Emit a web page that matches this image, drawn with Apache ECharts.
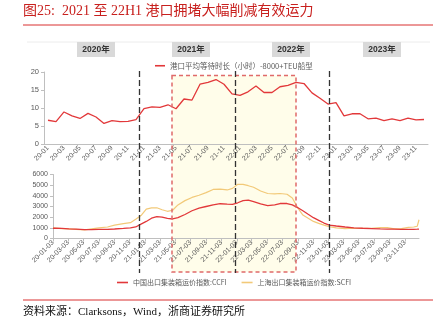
<!DOCTYPE html>
<html>
<head>
<meta charset="utf-8">
<script src="https://cdn.jsdelivr.net/npm/echarts@6/dist/echarts.min.js"></script>
<style>
  html, body { margin: 0; padding: 0; background: #fff; }
  #chart { width: 445px; height: 333px; }
</style>
</head>
<body>
<div id="chart"></div>
<script>
// Monthly average port waiting time (hours), 8000+ TEU vessels
const months = [
  '20-01','20-02','20-03','20-04','20-05','20-06','20-07','20-08','20-09','20-10','20-11','20-12',
  '21-01','21-02','21-03','21-04','21-05','21-06','21-07','21-08','21-09','21-10','21-11','21-12',
  '22-01','22-02','22-03','22-04','22-05','22-06','22-07','22-08','22-09','22-10','22-11','22-12',
  '23-01','23-02','23-03','23-04','23-05','23-06','23-07','23-08','23-09','23-10','23-11','23-12'
];
const waitHours = [
  6.6, 6.2, 8.9, 7.8, 7.1, 8.5, 7.5, 5.7, 6.5, 6.2, 6.3, 6.8,
  9.8, 10.3, 10.2, 10.9, 9.8, 12.5, 12.2, 16.6, 17.1, 17.9, 16.6, 13.9,
  13.5, 14.5, 16.1, 14.3, 14.3, 15.9, 16.3, 17.1, 16.8, 14.2, 12.7, 11.1,
  11.5, 7.8, 8.4, 8.4, 7.0, 7.2, 6.5, 7.0, 6.5, 7.2, 6.7, 6.8
];

// Freight index observations (weekly release dates)
const indexDates = [
  '2020-01-03','2020-02-07','2020-03-06','2020-04-03','2020-05-08','2020-06-05','2020-07-03','2020-08-07',
  '2020-09-04','2020-10-09','2020-11-06','2020-11-27','2020-12-18','2021-01-08','2021-01-29','2021-02-19',
  '2021-03-12','2021-04-02','2021-04-23','2021-05-14','2021-06-11','2021-07-09','2021-08-06','2021-09-03',
  '2021-10-01','2021-10-29','2021-11-26','2021-12-17','2022-01-07','2022-01-28','2022-02-18','2022-03-11',
  '2022-04-08','2022-05-06','2022-06-03','2022-06-24','2022-07-22','2022-08-12','2022-09-02','2022-09-23',
  '2022-10-14','2022-11-04','2022-11-25','2022-12-16','2023-01-06','2023-02-03','2023-03-10','2023-04-14',
  '2023-05-19','2023-06-23','2023-07-28','2023-08-25','2023-09-22','2023-10-20','2023-11-17','2023-12-08',
  '2023-12-22','2023-12-29'
];
const ccfiValues = [
  960, 950, 910, 880, 830, 840, 850, 860,
  890, 950, 1000, 1080, 1350, 1600, 1900, 2050,
  2000, 1880, 1830, 1950, 2250, 2600, 2850, 3000,
  3150, 3260, 3220, 3200, 3350, 3550, 3600, 3450,
  3250, 3080, 3150, 3280, 3280, 3150, 2900, 2600,
  2270, 1950, 1700, 1450, 1250, 1170, 1080, 1000,
  960, 930, 900, 880, 870, 860, 850, 860,
  870, 880
];
const scfiValues = [
  1000, 930, 900, 860, 800, 900, 1000, 1080,
  1250, 1400, 1480, 1800, 2150, 2750, 2870, 2880,
  2700, 2550, 2650, 3150, 3550, 3850, 4050, 4300,
  4600, 4620, 4550, 4700, 5080, 5080, 4950, 4800,
  4450, 4220, 4180, 4220, 4150, 3800, 2900, 2200,
  1900, 1600, 1420, 1250, 1100, 1000, 930, 960,
  950, 950, 1030, 1020, 900, 920, 1050, 1080,
  1150, 1760
];
const indexTickDates = [
  '2020-01-03','2020-03-03','2020-05-03','2020-07-03','2020-09-03','2020-11-03',
  '2021-01-03','2021-03-03','2021-05-03','2021-07-03','2021-09-03','2021-11-03',
  '2022-01-03','2022-03-03','2022-05-03','2022-07-03','2022-09-03','2022-11-03',
  '2023-01-03','2023-03-03','2023-05-03','2023-07-03','2023-09-03','2023-11-03'
];
const yearTags = ['2020年', '2021年', '2022年', '2023年'];

const waitName = '港口平均等待时长（小时）-8000+TEU船型';
const ccfiName = '中国出口集装箱运价指数:CCFI';
const scfiName = '上海出口集装箱运价指数:SCFI';

function ts(s) {
  const p = s.split('-').map(Number);
  return new Date(p[0], p[1] - 1, p[2]).getTime();
}
function pad(n) { return (n < 10 ? '0' : '') + n; }
function fmtDate(v) {
  const d = new Date(v);
  return pad(d.getFullYear() % 100) + '-' + pad(d.getMonth() + 1) + '-' + pad(d.getDate());
}

const ccfiData = indexDates.map((d, i) => [ts(d), ccfiValues[i]]);
const scfiData = indexDates.map((d, i) => [ts(d), scfiValues[i]]);
const tickValues = indexTickDates.map(ts);

const RED = '#e2383a';
const TAN = '#f2c978';
const AXIS = '#bfbfbf';
const LABEL = '#595959';
const SANS = '"Liberation Sans", "Noto Sans CJK SC", sans-serif';
const CJK = '"Noto Sans CJK SC", sans-serif';
const SERIF = '"Liberation Serif", "Noto Sans CJK SC", serif';

// year tags across the top band
const yearBoxX = [77, 172, 272, 363];
const yearGraphics = yearTags.map((t, i) => ({
  type: 'group', left: yearBoxX[i], top: 42,
  children: [
    { type: 'rect', shape: { x: 0, y: 0, width: 38, height: 15 }, style: { fill: '#d9d9d9' } },
    { type: 'text', x: 19, y: 8, style: { text: t, fill: '#333', font: 'bold 8.5px ' + SANS, textAlign: 'center', textVerticalAlign: 'middle' } }
  ]
}));

function vDash(x) {
  return { type: 'line', z: 5, shape: { x1: x, y1: 71, x2: x, y2: 273 },
    style: { stroke: '#333', lineWidth: 1.3, lineDash: [6, 3] } };
}

const chart = echarts.init(document.getElementById('chart'), null, { renderer: 'canvas' });
chart.setOption({
  animation: false,
  backgroundColor: '#fff',
  textStyle: { fontFamily: SANS },
  legend: [
    { data: [waitName], left: 150, top: 57, icon: 'rect', itemWidth: 10, itemHeight: 1.6,
      textStyle: { fontFamily: CJK, fontSize: 7.5, color: LABEL } },
    { data: [ccfiName, scfiName], left: 112, top: 274, icon: 'rect', itemWidth: 11, itemHeight: 1.6, itemGap: 15,
      textStyle: { fontFamily: CJK, fontSize: 7, color: LABEL } }
  ],
  grid: [
    { left: 44, right: 17, top: 72, height: 72 },
    { left: 53, right: 26, top: 174.5, height: 64 }
  ],
  xAxis: [
    { type: 'category', gridIndex: 0, data: months, boundaryGap: true,
      axisLine: { lineStyle: { color: AXIS } },
      axisTick: { interval: 1, length: 3, lineStyle: { color: AXIS } },
      axisLabel: { interval: 1, rotate: 45, fontSize: 7, color: LABEL, margin: 3 } },
    { type: 'value', gridIndex: 1, min: ts('2020-01-03'), max: ts('2023-12-29'),
      splitLine: { show: false },
      axisLine: { show: true, lineStyle: { color: AXIS } },
      axisTick: { show: true, length: 3, customValues: tickValues, lineStyle: { color: AXIS } },
      axisLabel: { customValues: tickValues, rotate: 45, fontSize: 7, color: LABEL, margin: 3, formatter: fmtDate } }
  ],
  yAxis: [
    { type: 'value', gridIndex: 0, min: 0, max: 20, interval: 5, splitLine: { show: false },
      axisLine: { show: true, lineStyle: { color: AXIS } },
      axisTick: { show: true, length: 3, lineStyle: { color: AXIS } },
      axisLabel: { fontSize: 7.5, color: LABEL, margin: 5 } },
    { type: 'value', gridIndex: 1, min: 0, max: 6000, interval: 1000, splitLine: { show: false },
      axisLine: { show: true, lineStyle: { color: AXIS } },
      axisTick: { show: true, length: 3, lineStyle: { color: AXIS } },
      axisLabel: { fontSize: 7, color: LABEL, margin: 5, formatter: v => String(v) } }
  ],
  series: [
    { name: waitName, type: 'line', xAxisIndex: 0, yAxisIndex: 0, data: waitHours,
      symbol: 'none', color: RED, lineStyle: { width: 1.3, color: RED } },
    { name: scfiName, type: 'line', xAxisIndex: 1, yAxisIndex: 1, data: scfiData,
      symbol: 'none', color: TAN, lineStyle: { width: 1.2, color: TAN } },
    { name: ccfiName, type: 'line', xAxisIndex: 1, yAxisIndex: 1, data: ccfiData,
      symbol: 'none', color: RED, lineStyle: { width: 1.3, color: RED } }
  ],
  graphic: [
    // headline and rules
    { type: 'text', left: 23, top: 4, style: { text: '图25:  2021 至 22H1 港口拥堵大幅削减有效运力', fill: '#c8201e', font: '14px ' + SERIF } },
    { type: 'line', shape: { x1: 23, y1: 25, x2: 433, y2: 25 }, style: { stroke: '#d93030', lineWidth: 1 } },
    { type: 'line', shape: { x1: 27, y1: 42, x2: 430, y2: 42 }, style: { stroke: '#ececec', lineWidth: 1 } },
    { type: 'line', shape: { x1: 23, y1: 300, x2: 433, y2: 300 }, style: { stroke: '#d93030', lineWidth: 1 } },
    { type: 'text', left: 23, top: 307, style: { text: '资料来源：Clarksons，Wind，浙商证券研究所', fill: '#111', font: '11px ' + SERIF } },
    // congestion period highlight
    { type: 'rect', z: -10, shape: { x: 172, y: 75.5, width: 124, height: 196.5 }, style: { fill: '#fffdea' } },
    { type: 'rect', z: 4, shape: { x: 172, y: 75.5, width: 124, height: 196.5 },
      style: { fill: null, stroke: '#e06a6a', lineWidth: 1.5, lineDash: [4, 3] } },
    vDash(139.5), vDash(235.5), vDash(329.5)
  ].concat(yearGraphics)
});
</script>
</body>
</html>
